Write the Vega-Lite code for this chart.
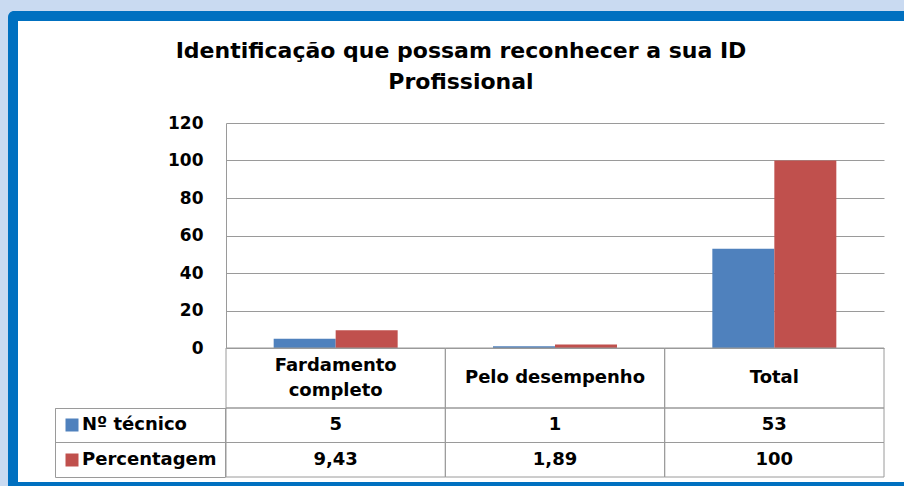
{
  "$schema": "https://vega.github.io/schema/vega-lite/v6.json",
  "autosize": {"type": "none"},
  "padding": {"left": 226, "top": 16, "right": 678, "bottom": 470},
  "background": "#c9daf1",
  "datasets": {
    "dados": [
      {"categoria": "Fardamento completo", "serie": "Nº técnico", "valor": 5},
      {"categoria": "Fardamento completo", "serie": "Percentagem", "valor": 9.43},
      {"categoria": "Pelo desempenho", "serie": "Nº técnico", "valor": 1},
      {"categoria": "Pelo desempenho", "serie": "Percentagem", "valor": 1.89},
      {"categoria": "Total", "serie": "Nº técnico", "valor": 53},
      {"categoria": "Total", "serie": "Percentagem", "valor": 100}
    ]
  },
  "config": {
    "view": {"stroke": null},
    "axis": {"labelFont": "DejaVu Sans", "labelFontWeight": "bold", "labelColor": "#000000"},
    "legend": {"labelFont": "DejaVu Sans", "gradientHorizontalMaxLength": 2000, "gradientVerticalMaxLength": 2000}
  },
  "bounds": "flush",
  "spacing": 0,
  "vconcat": [
    {
      "width": 658,
      "height": 107,
      "data": {"name": "dados"},
      "mark": {"type": "text", "text": ""},
      "encoding": {
        "color": {
          "field": "valor",
          "type": "quantitative",
          "scale": {"range": ["#ffffff", "#ffffff"]},
          "legend": {
            "title": null,
            "orient": "none",
            "legendX": -218,
            "legendY": -5,
            "direction": "horizontal",
            "gradientLength": 897,
            "gradientThickness": 461,
            "gradientOpacity": 1,
            "gradientStrokeWidth": 0,
            "labelExpr": "''",
            "labelOffset": 0,
            "labelFontSize": 1,
            "padding": 10,
            "fillColor": "#0070C0",
            "cornerRadius": 6
          }
        }
      }
    },
    {
      "width": 658,
      "height": 225,
      "data": {"name": "dados"},
      "title": {
        "text": ["Identificação que possam reconhecer a sua ID", "Profissional"],
        "font": "DejaVu Sans",
        "fontSize": 22,
        "fontWeight": "bold",
        "color": "#000000",
        "lineHeight": 31,
        "anchor": "middle",
        "frame": "group",
        "dx": -94,
        "offset": -2,
        "baseline": "bottom"
      },
      "mark": {"type": "bar"},
      "encoding": {
        "x": {
          "field": "categoria",
          "type": "nominal",
          "sort": ["Fardamento completo", "Pelo desempenho", "Total"],
          "scale": {"paddingInner": 0, "paddingOuter": 0},
          "axis": null
        },
        "xOffset": {
          "field": "serie",
          "type": "nominal",
          "sort": ["Nº técnico", "Percentagem"],
          "scale": {"paddingInner": 0, "paddingOuter": 0.769}
        },
        "y": {
          "field": "valor",
          "type": "quantitative",
          "scale": {"domain": [0, 120], "nice": false},
          "axis": {
            "title": null,
            "tickCount": 6,
            "ticks": false,
            "domainColor": "#9a9a9a",
            "gridColor": "#9a9a9a",
            "labelFontSize": 17,
            "labelPadding": 23
          }
        },
        "color": {
          "field": "serie",
          "type": "nominal",
          "scale": {"domain": ["Nº técnico", "Percentagem"], "range": ["#4F81BD", "#C0504D"]},
          "legend": {
            "title": null,
            "orient": "none",
            "legendX": -171,
            "legendY": 285,
            "padding": 8,
            "strokeColor": "#9a9a9a",
            "symbolType": "square",
            "symbolSize": 169,
            "symbolStrokeWidth": 0,
            "labelFontSize": 18,
            "labelFontWeight": "bold",
            "labelColor": "#000000",
            "labelOffset": 1,
            "rowPadding": 17
          }
        }
      }
    },
    {
      "width": 658,
      "height": 60,
      "data": {"name": "dados"},
      "transform": [{"filter": "datum.serie == 'Nº técnico'"}],
      "encoding": {
        "x": {
          "field": "categoria",
          "type": "nominal",
          "sort": ["Fardamento completo", "Pelo desempenho", "Total"],
          "scale": {"paddingInner": 0, "paddingOuter": 0},
          "axis": null
        }
      },
      "layer": [
        {"mark": {"type": "rect", "fill": null, "stroke": "#9a9a9a", "strokeWidth": 1}},
        {
          "mark": {
            "type": "text",
            "font": "DejaVu Sans",
            "fontWeight": "bold",
            "fontSize": 18,
            "color": "#000000",
            "baseline": "middle",
            "lineHeight": 25,
            "dy": {"expr": "length(datum.categoria) > 16 ? -12 : 0"},
            "text": {"expr": "length(datum.categoria) > 16 ? split(datum.categoria, ' ') : datum.categoria"}
          }
        }
      ]
    },
    {
      "width": 658,
      "height": 69,
      "data": {"name": "dados"},
      "encoding": {
        "x": {
          "field": "categoria",
          "type": "nominal",
          "sort": ["Fardamento completo", "Pelo desempenho", "Total"],
          "scale": {"paddingInner": 0, "paddingOuter": 0},
          "axis": null
        },
        "y": {
          "field": "serie",
          "type": "nominal",
          "sort": ["Nº técnico", "Percentagem"],
          "scale": {"paddingInner": 0, "paddingOuter": 0},
          "axis": {"title": null, "labels": false, "domain": false, "grid": false, "ticks": true, "bandPosition": 0, "tickSize": 171, "tickColor": "#9a9a9a"}
        }
      },
      "layer": [
        {"mark": {"type": "rect", "fill": null, "stroke": "#9a9a9a", "strokeWidth": 1}},
        {
          "mark": {
            "type": "text",
            "font": "DejaVu Sans",
            "fontWeight": "bold",
            "fontSize": 18,
            "color": "#000000",
            "text": {"expr": "replace(format(datum.valor, '~g'), '.', ',')"}
          }
        }
      ]
    }
  ]
}
